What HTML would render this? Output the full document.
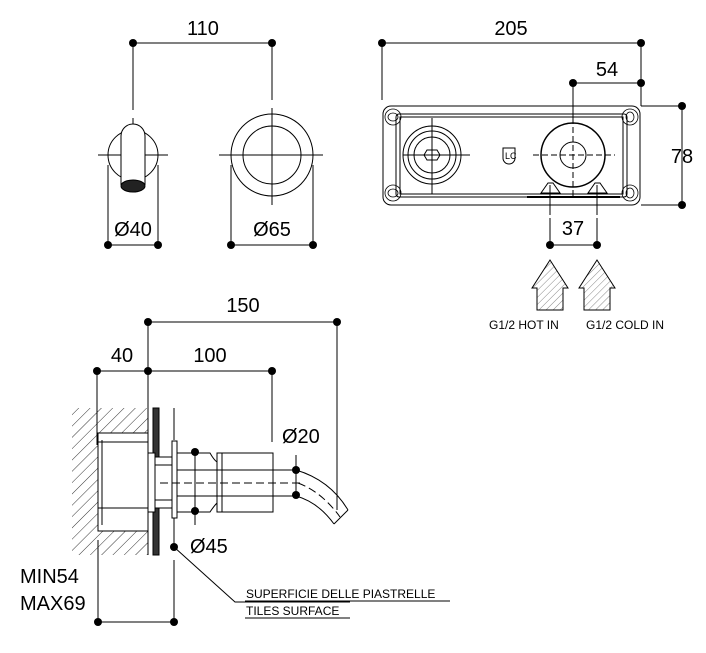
<!DOCTYPE html>
<html><head><style>html,body{margin:0;padding:0;background:#fff}svg{display:block}</style></head><body>
<svg width="706" height="653" viewBox="0 0 706 653" xmlns="http://www.w3.org/2000/svg" font-family="Liberation Sans, sans-serif">
<defs>
<pattern id="h" width="8" height="8" patternUnits="userSpaceOnUse" patternTransform="rotate(45)"><line x1="0" y1="0" x2="0" y2="8" stroke="#000" stroke-width="0.8"/></pattern>
<pattern id="h2" width="5" height="5" patternUnits="userSpaceOnUse" patternTransform="rotate(45)"><line x1="0" y1="0" x2="0" y2="5" stroke="#555" stroke-width="0.7"/></pattern>
</defs>
<g stroke="#000" fill="none" stroke-width="1">
<!-- top-left dims -->
<line x1="133" y1="43" x2="272" y2="43"/>
<line x1="133" y1="43" x2="133" y2="110"/><line x1="133" y1="118" x2="133" y2="185"/>
<line x1="272" y1="43" x2="272" y2="100"/><line x1="272" y1="108" x2="272" y2="205"/>
<line x1="98" y1="155" x2="168" y2="155"/><line x1="219" y1="155" x2="323" y2="155"/>
<circle cx="133" cy="155" r="25"/>
<path d="M121 185 V136 A12 12 0 0 1 145 136 V185" fill="#fff"/>
<ellipse cx="133" cy="186" rx="12" ry="6" fill="#222"/>
<circle cx="272" cy="155" r="41"/><circle cx="272" cy="155" r="29"/>
<line x1="108" y1="165" x2="108" y2="245"/><line x1="158" y1="165" x2="158" y2="245"/><line x1="108" y1="245" x2="158" y2="245"/>
<line x1="231" y1="165" x2="231" y2="245"/><line x1="313" y1="165" x2="313" y2="245"/><line x1="231" y1="245" x2="313" y2="245"/>
<!-- right box -->
<line x1="382" y1="43" x2="641" y2="43"/><line x1="382" y1="43" x2="382" y2="100"/><line x1="641" y1="43" x2="641" y2="106"/>
<line x1="573" y1="83" x2="641" y2="83"/><line x1="573" y1="83" x2="573" y2="118"/>
<line x1="641" y1="106" x2="682" y2="106"/><line x1="641" y1="205" x2="682" y2="205"/><line x1="682" y1="106" x2="682" y2="205"/>
<rect x="383" y="106" width="257" height="99" rx="8"/>
<rect x="396" y="114" width="231" height="83" rx="3"/>
<rect x="400" y="117" width="223" height="77"/>
<g stroke-width="0.8">
<circle cx="393" cy="117" r="8"/><ellipse cx="393" cy="117" rx="5" ry="4"/>
<circle cx="630" cy="117" r="8"/><ellipse cx="630" cy="117" rx="4" ry="5"/>
<circle cx="393" cy="193" r="8"/><ellipse cx="393" cy="193" rx="5" ry="4"/>
<circle cx="630" cy="193" r="8"/><ellipse cx="630" cy="193" rx="4" ry="5"/>
</g>
<circle cx="432" cy="155" r="29"/><circle cx="432" cy="155" r="24"/><circle cx="432" cy="155" r="18"/>
<polygon points="427,150 437,150 440,155 437,160 427,160 424,155"/>
<line x1="403" y1="155" x2="470" y2="155"/><line x1="432" y1="118" x2="432" y2="194"/>
<path d="M503 148 h12 v10 a6 6 0 0 1 -12 0 z"/>
<text x="505" y="159" font-size="9" fill="#000" stroke="none">LC</text>
<circle cx="573" cy="155" r="32" stroke-width="1.5"/><circle cx="573" cy="155" r="13"/>
<line x1="533" y1="155" x2="615" y2="155" stroke-dasharray="6 3"/>
<line x1="573" y1="118" x2="573" y2="198" stroke-dasharray="6 3"/>
<path d="M541 193 L548 183 h5 L560 193 Z M588 193 L595 183 h5 L607 193 Z" fill="#fff"/>
<line x1="527" y1="197" x2="620" y2="197" stroke-width="2"/>
<line x1="550" y1="185" x2="550" y2="215"/><line x1="597" y1="185" x2="597" y2="215"/>
<line x1="550" y1="218" x2="550" y2="245"/><line x1="597" y1="218" x2="597" y2="245"/><line x1="550" y1="245" x2="597" y2="245"/>
<path d="M537 310 V288 H532 L550 260 L568 288 H563 V310 Z" fill="url(#h2)"/>
<path d="M584 310 V288 H579 L597 260 L615 288 H610 V310 Z" fill="url(#h2)"/>
<!-- bottom view -->
<line x1="148" y1="322" x2="337" y2="322"/><line x1="337" y1="322" x2="337" y2="510"/>
<line x1="97" y1="371" x2="272" y2="371"/>
<line x1="148" y1="322" x2="148" y2="420"/><line x1="272" y1="371" x2="272" y2="442"/>
<line x1="97" y1="371" x2="97" y2="445"/><line x1="98" y1="540" x2="98" y2="622"/>
<path d="M72 408 H148 V555 H72 Z" fill="url(#h)" stroke="none"/>
<line x1="148" y1="408" x2="148" y2="555"/>
<rect x="153" y="408" width="6" height="147" fill="#333" stroke="#000"/>
<rect x="98" y="433" width="50" height="98" fill="#fff"/>
<line x1="98" y1="442" x2="148" y2="442"/><line x1="98" y1="508" x2="148" y2="508"/>
<line x1="102" y1="440" x2="102" y2="525"/>
<rect x="148" y="453" width="7" height="59" fill="#fff"/>
<rect x="155" y="457" width="18" height="51" fill="#fff"/>
<line x1="155" y1="465" x2="173" y2="465"/><line x1="155" y1="500" x2="173" y2="500"/>
<rect x="172" y="441" width="5" height="77" fill="#fff"/>
<line x1="174" y1="408" x2="174" y2="440"/><line x1="174" y1="518" x2="174" y2="545"/><line x1="174" y1="560" x2="174" y2="622"/>
<line x1="98" y1="622" x2="174" y2="622"/>
<path d="M177 453 H210 Q214 460 217 462 V503 Q214 506 210 512 H177"/>
<rect x="217" y="453" width="56" height="59"/><line x1="222" y1="453" x2="222" y2="512"/>
<line x1="177" y1="470" x2="296" y2="470"/><line x1="177" y1="496" x2="296" y2="496"/>
<line x1="160" y1="483" x2="300" y2="483" stroke-dasharray="8 4"/>
<path d="M296 470 Q330 480 348 510"/><path d="M296 496 Q318 502 334 524"/>
<line x1="348" y1="510" x2="334" y2="524"/>
<path d="M298 483 Q322 492 340 517" stroke-dasharray="8 4"/>
<line x1="195" y1="452" x2="195" y2="525"/>
<line x1="296" y1="455" x2="296" y2="496"/>
<polyline points="174,547 235,602 350,602"/>
<line x1="245" y1="601" x2="450" y2="601"/><line x1="245" y1="618" x2="350" y2="618"/>
</g>
<g fill="#000">
<circle cx="133" cy="43" r="4"/><circle cx="272" cy="43" r="4"/>
<circle cx="108" cy="245" r="4"/><circle cx="158" cy="245" r="4"/><circle cx="231" cy="245" r="4"/><circle cx="313" cy="245" r="4"/>
<circle cx="382" cy="43" r="4"/><circle cx="641" cy="43" r="4"/><circle cx="573" cy="83" r="4"/><circle cx="641" cy="83" r="4"/>
<circle cx="682" cy="106" r="4"/><circle cx="682" cy="205" r="4"/><circle cx="550" cy="245" r="4"/><circle cx="597" cy="245" r="4"/>
<circle cx="148" cy="322" r="4"/><circle cx="337" cy="322" r="4"/>
<circle cx="97" cy="371" r="4"/><circle cx="148" cy="371" r="4"/><circle cx="272" cy="371" r="4"/>
<circle cx="195" cy="452" r="4"/><circle cx="195" cy="511" r="4"/><circle cx="296" cy="470" r="4"/><circle cx="296" cy="495" r="4"/>
<circle cx="174" cy="547" r="4"/><circle cx="98" cy="622" r="4"/><circle cx="174" cy="622" r="4"/>
</g>
<g font-size="20" fill="#000">
<text x="203" y="35" text-anchor="middle">110</text>
<text x="133" y="236" text-anchor="middle">Ø40</text>
<text x="272" y="236" text-anchor="middle">Ø65</text>
<text x="511" y="35" text-anchor="middle">205</text>
<text x="607" y="76" text-anchor="middle">54</text>
<text x="682" y="163" text-anchor="middle">78</text>
<text x="573" y="235" text-anchor="middle">37</text>
<text x="243" y="312" text-anchor="middle">150</text>
<text x="122" y="362" text-anchor="middle">40</text>
<text x="210" y="362" text-anchor="middle">100</text>
<text x="282" y="443">Ø20</text>
<text x="190" y="553">Ø45</text>
<text x="20" y="583">MIN54</text>
<text x="20" y="610">MAX69</text>
</g>
<g font-size="12" fill="#000">
<text x="489" y="329">G1/2 HOT IN</text>
<text x="586" y="329">G1/2 COLD IN</text>
<text x="246" y="598">SUPERFICIE DELLE PIASTRELLE</text>
<text x="246" y="615">TILES SURFACE</text>
</g>
</svg>
</body></html>
